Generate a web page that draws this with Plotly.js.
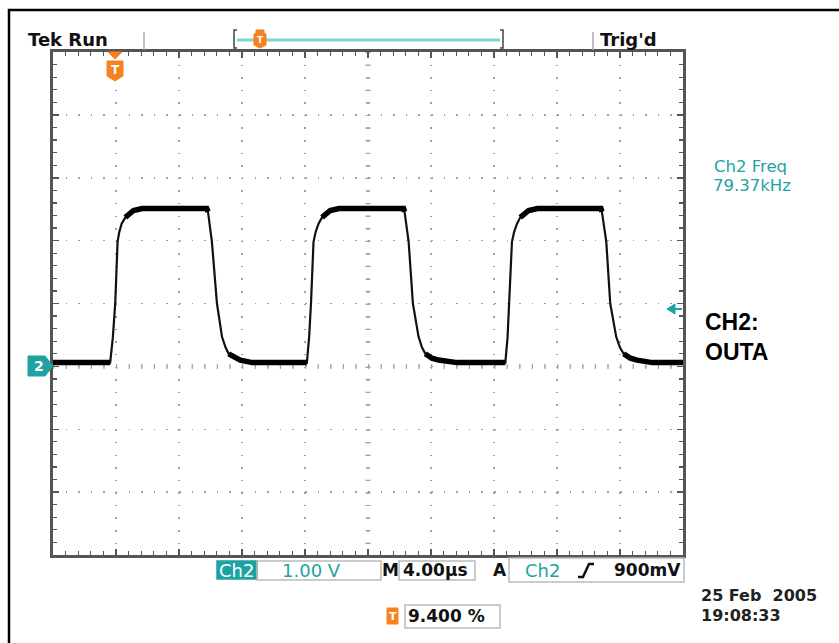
<!DOCTYPE html>
<html><head><meta charset="utf-8">
<script src="https://cdn.plot.ly/plotly-3.0.1.min.js"></script>
<style>html,body{margin:0;padding:0;background:#fff}</style>
</head><body><div id="chart" style="width:839px;height:643px"></div>
<script>
// Waveform (time in µs relative to trigger, volts)
const timeUs = [-3.76, -0.13, 0.04, 0.19, 0.34, 0.45, 0.6, 0.83, 1.1, 1.35, 1.9, 6.0, 6.08, 6.33, 6.65, 6.97, 7.2, 7.39, 7.8, 8.13, 8.89,
                12.36, 12.50, 12.62, 12.78, 12.92, 13.1, 13.32, 13.58, 13.84, 14.4, 18.5, 18.56, 18.82, 19.09, 19.45, 19.67, 19.88, 20.3, 20.72, 21.89,
                24.96, 25.10, 25.21, 25.38, 25.52, 25.7, 25.91, 26.18, 26.44, 27.0, 31.03, 31.09, 31.37, 31.62, 32.0, 32.24, 32.47, 32.9, 33.32, 34.3, 36.24];
const volts  = [0.06, 0.06, 0.46, 1.0, 1.98, 2.14, 2.27, 2.37, 2.44, 2.48, 2.51, 2.51, 2.46, 1.98, 1.0, 0.47, 0.30, 0.20, 0.13, 0.10, 0.06,
                0.06, 0.46, 1.0, 1.98, 2.14, 2.27, 2.37, 2.44, 2.48, 2.51, 2.51, 2.46, 1.98, 1.0, 0.47, 0.30, 0.20, 0.13, 0.10, 0.06,
                0.06, 0.46, 1.0, 1.98, 2.14, 2.27, 2.37, 2.44, 2.48, 2.51, 2.51, 2.46, 1.98, 1.0, 0.47, 0.30, 0.20, 0.13, 0.10, 0.06, 0.06];
const xRange = [-3.76, 36.24];   // 10 div x 4.00 µs, trigger at 9.4 %
const yRange = [-3, 5];          // 8 div x 1.00 V
const readouts = {
  tek: "Tek Run", trig: "Trig'd", ch: "Ch2", volt: "1.00 V", m: "M", time: "4.00µs", a: "A",
  level: "900mV", pos: "9.400 %", date: "25 Feb\u00a0\u00a02005", clock: "19:08:33",
  freqLabel: "Ch2 Freq", freq: "79.37kHz", note1: "CH2:", note2: "OUTA"
};

const TEAL = '#1ea3a3', CYAN = '#80d6d6', ORANGE = '#f5821f', GRID = '#a0a0a0', EDGE = '#555';
const L = 53, R = 683, T = 52, B = 555;
const X = p => (p - L) / (R - L);
const Y = p => (B - p) / (B - T);

const flat = volts.map(v => (v <= 0.21 || v >= 2.36) ? v : null);

const traces = [
  {x: timeUs, y: volts, mode: 'lines', line: {color: '#111', width: 2.2}, hoverinfo: 'skip', showlegend: false},
  {x: timeUs, y: flat, mode: 'lines', connectgaps: false, line: {color: '#000', width: 5.5}, hoverinfo: 'skip', showlegend: false}
];

function txt(text, x, y, size, color, weight, family) {
  return {text: text, xref: 'paper', yref: 'paper', x: X(x - 2), y: Y(y), xanchor: 'left', yanchor: 'middle',
          showarrow: false, font: {family: family || 'DejaVu Sans', size: size, color: color, weight: weight || 'normal'}};
}
function ctxt(text, x, y, size, color) {
  return {text: text, xref: 'paper', yref: 'paper', x: X(x), y: Y(y), xanchor: 'center', yanchor: 'middle',
          showarrow: false, font: {family: 'DejaVu Sans', size: size, color: color, weight: 'bold'}};
}
function path(pts, close) {
  return 'M' + pts.map(p => X(p[0]) + ',' + Y(p[1])).join('L') + (close ? 'Z' : '');
}
function pline(pts, color, width) {
  return {type: 'path', xref: 'paper', yref: 'paper', path: path(pts, false), line: {color: color, width: width}, layer: 'above'};
}
function pfill(pts, color) {
  return {type: 'path', xref: 'paper', yref: 'paper', path: path(pts, true), fillcolor: color, line: {color: color, width: 1}, layer: 'above'};
}
function box(x0, y0, x1, y1, color, fill) {
  return {type: 'rect', xref: 'paper', yref: 'paper', x0: X(x0), x1: X(x1), y0: Y(y1), y1: Y(y0),
          line: {color: color, width: 1.5}, fillcolor: fill || 'rgba(0,0,0,0)', layer: 'above'};
}

const shapes = [
  // outer frame
  pline([[9, 643], [9, 10], [839, 10]], '#000', 2.5),
  // centre graticule tick lines
  {type: 'line', xref: 'x', yref: 'y', x0: xRange[0], x1: xRange[1], y0: 0, y1: 0,
   line: {color: GRID, width: 5, dash: '1.2px,11.4px'}, layer: 'below'},
  {type: 'line', xref: 'x', yref: 'y', x0: 16.24, x1: 16.24, y0: yRange[1], y1: yRange[0],
   line: {color: GRID, width: 5, dash: '1.2px,11.38px'}, layer: 'below'},
  // header decorations
  pline([[144, 32], [144, 50]], '#aaa', 1.5),
  pline([[593, 32], [593, 50]], '#aaa', 1.5),
  pline([[237, 30], [234, 30], [234, 48], [237, 48]], '#444', 1.5),
  pline([[500, 30], [503, 30], [503, 48], [500, 48]], '#444', 1.5),
  pline([[237, 40], [500, 40]], CYAN, 3),
  pfill([[256, 30], [264, 30], [264, 33], [266, 34], [266, 45], [260, 48], [254, 45], [254, 34], [256, 33]], ORANGE),
  // trigger position marker on graticule
  pfill([[108, 52], [122, 52], [115, 59]], ORANGE),
  pfill([[107, 61], [123, 61], [123, 76], [115, 81], [107, 76]], ORANGE),
  // channel 2 ground marker
  pfill([[28, 356], [45, 356], [53, 366], [45, 376], [28, 376]], TEAL),
  // trigger level arrow
  pfill([[667, 309], [675, 304], [675, 314]], TEAL),
  pline([[674, 309], [682, 309]], TEAL, 2),
  // bottom readout boxes
  box(217, 561, 257, 579, TEAL, TEAL),
  box(257, 561, 381, 580, '#bbb'),
  box(399, 561, 475, 580, '#bbb'),
  box(509, 558, 684, 582, '#bbb'),
  box(405, 605, 500, 628, '#bbb'),
  pfill([[387, 608], [398, 608], [398, 624], [387, 624]], ORANGE),
  // trigger slope symbol
  pline([[578, 577], [583, 577], [589, 564], [594, 564]], '#111', 2.5)
];

const annotations = [
  txt(readouts.tek, 28, 39, 18, '#111', 'bold'),
  txt(readouts.trig, 600, 40, 18, '#111', 'bold'),
  ctxt('T', 260, 40, 9, '#fff'),
  ctxt('T', 115, 70, 12, '#fff'),
  ctxt('2', 39, 366, 14, '#fff'),
  txt(readouts.freqLabel, 714, 166, 16.5, TEAL),
  txt(readouts.freq, 713, 185.5, 16.5, TEAL),
  txt(readouts.note1, 705, 322, 23, '#000', 'bold', 'Liberation Sans'),
  txt(readouts.note2, 705, 352, 23, '#000', 'bold', 'Liberation Sans'),
  txt(readouts.ch, 219, 570, 18, '#fff'),
  txt(readouts.volt, 282, 570, 18, TEAL),
  txt(readouts.m, 382, 570, 17, '#111', 'bold'),
  txt(readouts.time, 403, 570, 17, '#111', 'bold'),
  txt(readouts.a, 493, 570, 17, '#111', 'bold'),
  txt(readouts.ch, 525, 570, 18, TEAL),
  txt(readouts.level, 614, 570, 17, '#111', 'bold'),
  ctxt('T', 392.5, 616, 11, '#fff'),
  txt(readouts.pos, 408, 616, 17, '#111', 'bold'),
  txt(readouts.date, 701, 595.5, 16, '#222', 'bold'),
  txt(readouts.clock, 701, 615, 16, '#222', 'bold')
];

const axisCommon = {
  showticklabels: false, zeroline: false, showline: true, linecolor: EDGE, linewidth: 3, mirror: 'ticks',
  ticks: 'inside', ticklen: 6, tickwidth: 1.5, tickcolor: EDGE, showgrid: true, gridcolor: GRID, gridwidth: 1.5,
  fixedrange: true
};

const layout = {
  width: 839, height: 643, paper_bgcolor: '#fff', plot_bgcolor: '#fff',
  margin: {l: L, r: 839 - R, t: T, b: 643 - B, pad: 0},
  showlegend: false,
  xaxis: Object.assign({}, axisCommon, {range: xRange, tick0: xRange[0], dtick: 4, griddash: '1.5px,11.08px',
    minor: {tick0: xRange[0], dtick: 0.8, ticks: 'inside', ticklen: 4, tickwidth: 1.2, tickcolor: EDGE, showgrid: false}}),
  yaxis: Object.assign({}, axisCommon, {range: yRange, tick0: yRange[0], dtick: 1, griddash: '1.5px,11.1px',
    minor: {tick0: yRange[0], dtick: 0.2, ticks: 'inside', ticklen: 4, tickwidth: 1.2, tickcolor: EDGE, showgrid: false}}),
  shapes: shapes,
  annotations: annotations
};

Plotly.newPlot('chart', traces, layout, {displayModeBar: false, staticPlot: true});
</script></body></html>
